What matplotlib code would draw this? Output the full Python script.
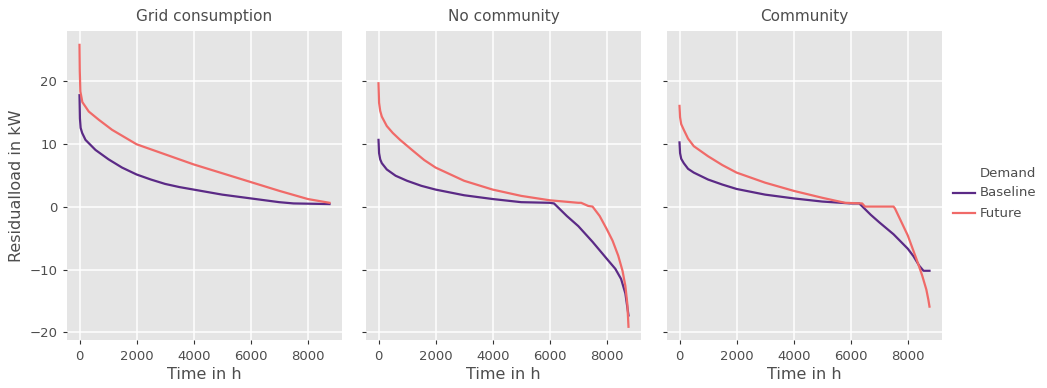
import matplotlib.pyplot as plt

# load duration curves
panels = ["Grid consumption", "No community", "Community"]

grid_base_h = [0, 15, 40, 93, 210, 560, 1020, 1490, 2000, 2500, 3000, 3500, 4000, 5000, 6000, 7000, 7500,
               8760]
grid_base = [17.7, 14.0, 12.5, 11.7, 10.6, 9.0, 7.5, 6.2, 5.1, 4.3, 3.6, 3.1, 2.7, 1.9, 1.3, 0.7, 0.5, 0.4]
grid_fut_h = [0, 10, 30, 100, 325, 675, 1140, 2000, 3000, 4000, 5000, 6000, 7000, 8000, 8760]
grid_fut = [25.7, 21.5, 18.3, 16.6, 15.1, 13.8, 12.2, 9.9, 8.3, 6.7, 5.3, 3.9, 2.5, 1.2, 0.6]

nocom_base_h = [0, 20, 60, 116, 290, 600, 1000, 1500, 2000, 3000, 4000, 5000, 6000, 6150, 6600, 7000, 7500,
                8000, 8300, 8500, 8650, 8760]
nocom_base = [10.6, 8.5, 7.5, 6.9, 5.9, 4.9, 4.1, 3.3, 2.7, 1.8, 1.2, 0.7, 0.6, 0.5, -1.5, -3.1, -5.6,
              -8.3, -9.9, -11.5, -13.8, -17.3]
nocom_fut_h = [0, 20, 60, 116, 290, 500, 756, 1200, 1600, 2000, 3000, 4000, 5000, 6000, 7000, 7100, 7350,
               7500, 7750, 8000, 8200, 8400, 8550, 8650, 8720, 8760]
nocom_fut = [19.6, 16.5, 15.2, 14.3, 12.8, 11.7, 10.6, 8.9, 7.4, 6.2, 4.1, 2.7, 1.7, 1.0, 0.6, 0.6, 0.1,
             0.0, -1.5, -3.6, -5.4, -7.8, -10.2, -12.6, -15.5, -19.1]

com_base_h = [0, 20, 60, 150, 300, 500, 1000, 1500, 2000, 3000, 4000, 5000, 6000, 6300, 6700, 7000, 7500,
              8000, 8200, 8400, 8550, 8760]
com_base = [10.2, 8.5, 7.6, 6.9, 6.0, 5.4, 4.3, 3.5, 2.8, 1.9, 1.3, 0.8, 0.5, 0.5, -1.3, -2.5, -4.4,
            -6.7, -7.9, -9.4, -10.2, -10.2]
com_fut_h = [0, 20, 60, 150, 300, 500, 1000, 1500, 2000, 3000, 4000, 5000, 5800, 6400, 6500, 7500, 7550,
             8000, 8300, 8500, 8650, 8720, 8760]
com_fut = [16.0, 14.2, 13.1, 12.2, 10.8, 9.6, 8.0, 6.6, 5.4, 3.8, 2.5, 1.4, 0.6, 0.5, 0.0, 0.0, -0.3,
           -4.6, -8.3, -10.9, -13.2, -14.8, -15.9]

series = [
    ((grid_base_h, grid_base), (grid_fut_h, grid_fut)),
    ((nocom_base_h, nocom_base), (nocom_fut_h, nocom_fut)),
    ((com_base_h, com_base), (com_fut_h, com_fut)),
]
demand_labels = ["Baseline", "Future"]
colors = ["#5b2a86", "#f06a68"]

yticks = [-20, -10, 0, 10, 20]
xticks = [0, 2000, 4000, 6000, 8000]

W, H = 1047, 388
fig = plt.figure(figsize=(W / 100, H / 100), dpi=100)
fig.patch.set_facecolor("white")

lefts = [67, 366, 667]
pw, top, bottom = 275, 31, 340
txt = "#4d4d4d"

for i, (name, (base, fut)) in enumerate(zip(panels, series)):
    ax = fig.add_axes([lefts[i] / W, (H - bottom) / H, pw / W, (bottom - top) / H])
    ax.set_facecolor("#e5e5e5")
    for s in ax.spines.values():
        s.set_visible(False)
    ax.grid(True, color="white", linewidth=1.1)
    ax.set_axisbelow(True)
    ax.plot(base[0], base[1], color=colors[0], lw=1.6, label=demand_labels[0])
    ax.plot(fut[0], fut[1], color=colors[1], lw=1.6, label=demand_labels[1])
    ax.set_xlim(-438, 9198)
    ax.set_ylim(-21.2, 27.9)
    ax.set_xticks(xticks)
    ax.set_yticks(yticks)
    ax.tick_params(colors="#333333", labelcolor=txt, labelsize=9.5, length=3, width=0.8, pad=4)
    ax.set_xlabel("Time in h", fontsize=11.5, color=txt, labelpad=3)
    ax.set_title(name, fontsize=11, color=txt, pad=7)
    if i == 0:
        ax.set_ylabel("Residualload in kW", fontsize=11.5, color=txt)
    else:
        ax.set_yticklabels([])

fig.text(980 / W, 1 - 174 / H, "Demand", fontsize=9.5, color=txt, va="center")
for j, lab in enumerate(demand_labels):
    yy = 1 - (193 + 20 * j) / H
    fig.add_artist(plt.Line2D([953 / W, 975 / W], [yy, yy], color=colors[j], lw=1.6))
    fig.text(980 / W, yy, lab, fontsize=9.5, color=txt, va="center")

fig.savefig("out.png", dpi=100)
